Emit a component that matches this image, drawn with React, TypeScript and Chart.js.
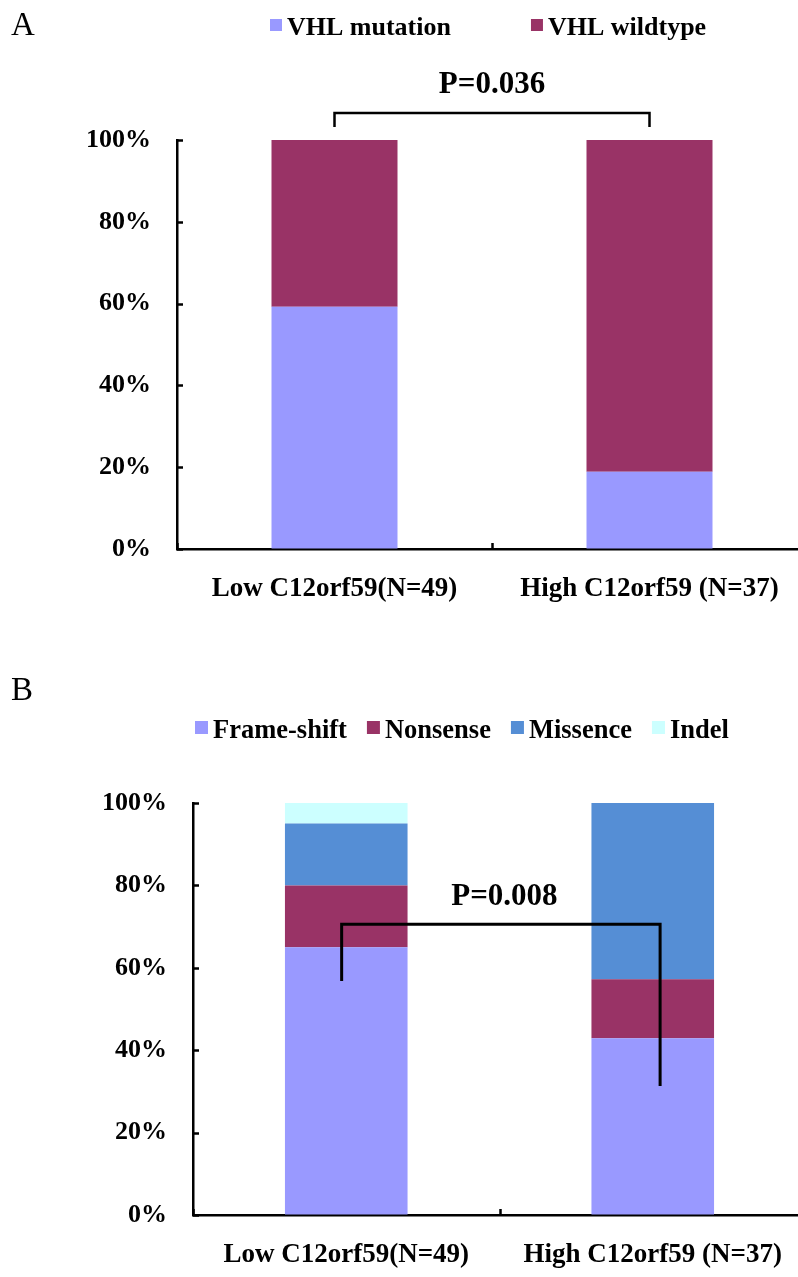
import React, { useEffect, useRef } from "react";
import { Chart, registerables } from "chart.js";

Chart.register(...registerables);

// ---------- data ----------
const groups = ["Low C12orf59(N=49)", "High C12orf59 (N=37)"];
const yTicks = [0, 20, 40, 60, 80, 100];

// Panel A
const vhlMutation = [59.2, 18.9];
const vhlWildtype = [40.8, 81.1];
const pTextA = "P=0.036";

// Panel B
const frameShift = [65, 42.9];
const nonsense = [15, 14.3];
const missence = [15, 42.8];
const indel = [5, 0];
const pTextB = "P=0.008";

const FONT = "'Liberation Serif', 'Times New Roman', serif";

const decorPlugin = {
  id: "decor",
  afterDraw(chart: any, _args: any, opts: any) {
    const { ctx, chartArea } = chart;
    const xs = chart.scales.x;
    const ys = chart.scales.y;
    ctx.save();
    ctx.strokeStyle = "#000";
    ctx.lineWidth = 2.5;
    ctx.lineCap = "butt";
    // inward tick marks on y axis
    ys.ticks.forEach((t: any) => {
      const py = Math.round(ys.getPixelForValue(t.value)) + 0.5;
      ctx.beginPath();
      ctx.moveTo(chartArea.left, py);
      ctx.lineTo(chartArea.left + 6, py);
      ctx.stroke();
    });
    // inward tick marks on x axis at category boundaries
    for (let i = 0; i <= xs.ticks.length; i++) {
      const px = Math.round(xs.getPixelForValue(i - 0.5)) + 0.5;
      ctx.beginPath();
      ctx.moveTo(px, chartArea.bottom);
      ctx.lineTo(px, chartArea.bottom - 6);
      ctx.stroke();
    }
    // significance bracket
    const b = opts.bracket;
    ctx.lineWidth = b.width;
    ctx.beginPath();
    ctx.moveTo(xs.getPixelForValue(b.x1), ys.getPixelForValue(b.y1));
    ctx.lineTo(xs.getPixelForValue(b.x1), ys.getPixelForValue(b.top));
    ctx.lineTo(xs.getPixelForValue(b.x2), ys.getPixelForValue(b.top));
    ctx.lineTo(xs.getPixelForValue(b.x2), ys.getPixelForValue(b.y2));
    ctx.stroke();
    // p value text
    ctx.fillStyle = "#000";
    ctx.font = `bold 31px ${FONT}`;
    ctx.textAlign = "center";
    ctx.textBaseline = "alphabetic";
    ctx.fillText(opts.pText, xs.getPixelForValue(opts.pX), ys.getPixelForValue(opts.pY));
    // legend
    const lg = opts.legend;
    ctx.font = `bold ${lg.size}px ${FONT}`;
    ctx.textAlign = "left";
    let x = lg.x;
    chart.data.datasets.forEach((ds: any) => {
      ctx.fillStyle = ds.backgroundColor;
      ctx.fillRect(x, lg.baseline - 4 - lg.box, lg.box, lg.box);
      ctx.fillStyle = "#000";
      const tx = x + lg.box + 5;
      ctx.fillText(ds.label, tx, lg.baseline);
      x = tx + ctx.measureText(ds.label).width + lg.gap;
    });
    ctx.restore();
  },
};

function makeConfig(p: any) {
  const grid = {
    display: true,
    drawOnChartArea: false,
    drawTicks: false,
    color: "rgba(0,0,0,0)",
  };
  const border = { display: true, color: "#000", width: 2.5 };
  return {
    type: "bar" as const,
    data: {
      labels: groups,
      datasets: p.datasets.map((d: any) => ({
        label: d.label,
        data: d.data,
        backgroundColor: d.color,
        borderWidth: 0,
        barPercentage: 0.4,
        categoryPercentage: 1,
      })),
    },
    options: {
      responsive: false,
      animation: false as const,
      devicePixelRatio: 1,
      layout: { padding: { top: p.top, left: 0, right: p.right, bottom: 0 } },
      plugins: {
        legend: { display: false },
        tooltip: { enabled: false },
        decor: p.decor,
      },
      scales: {
        x: {
          stacked: true,
          offset: true,
          grid,
          border,
          ticks: {
            color: "#000",
            font: { family: FONT, size: 27, weight: "bold" },
            padding: 24,
            maxRotation: 0,
            autoSkip: false,
          },
          afterFit: (s: any) => {
            s.height = p.xHeight;
          },
        },
        y: {
          stacked: true,
          min: 0,
          max: 100,
          grid,
          border,
          ticks: {
            color: "#000",
            font: { family: FONT, size: 26, weight: "bold" },
            padding: 26,
            callback: (v: any) => v + "%",
          },
          afterBuildTicks: (s: any) => {
            s.ticks = yTicks.map((v) => ({ value: v }));
          },
          afterFit: (s: any) => {
            s.width = p.yWidth;
          },
        },
      },
    },
    plugins: [decorPlugin],
  };
}

export default function App() {
  const refA = useRef<HTMLCanvasElement>(null);
  const refB = useRef<HTMLCanvasElement>(null);

  useEffect(() => {
    document.body.style.margin = "0";
    const chartA = new Chart(
      refA.current as HTMLCanvasElement,
      makeConfig({
        top: 140,
        right: 3,
        yWidth: 177,
        xHeight: 76,
        datasets: [
          { label: "VHL mutation", data: vhlMutation, color: "#9999FF" },
          { label: "VHL wildtype", data: vhlWildtype, color: "#993366" },
        ],
        decor: {
          bracket: { x1: 0, x2: 1, top: 106.6, y1: 103.2, y2: 103.2, width: 2.5 },
          pText: pTextA,
          pX: 0.5,
          pY: 111.5,
          legend: { x: 270, baseline: 35, box: 12, gap: 80, size: 26 },
        },
      }) as any
    );
    const chartB = new Chart(
      refB.current as HTMLCanvasElement,
      makeConfig({
        top: 178,
        right: 4,
        yWidth: 193,
        xHeight: 62,
        datasets: [
          { label: "Frame-shift", data: frameShift, color: "#9999FF" },
          { label: "Nonsense", data: nonsense, color: "#993366" },
          { label: "Missence", data: missence, color: "#558ED5" },
          { label: "Indel", data: indel, color: "#CCFFFF" },
        ],
        decor: {
          bracket: { x1: -0.015, x2: 1.024, top: 70.6, y1: 56.8, y2: 31.3, width: 3 },
          pText: pTextB,
          pX: 0.516,
          pY: 75.2,
          legend: { x: 195, baseline: 113, box: 13, gap: 20, size: 26.5 },
        },
      }) as any
    );
    return () => {
      chartA.destroy();
      chartB.destroy();
    };
  }, []);

  const letterStyle: React.CSSProperties = {
    position: "absolute",
    left: 11,
    font: `33px ${FONT}`,
    lineHeight: "33px",
    color: "#000",
  };

  return (
    <div
      style={{
        position: "absolute",
        left: 0,
        top: 0,
        width: 798,
        height: 1277,
        overflow: "hidden",
        background: "#fff",
      }}
    >
      <canvas ref={refA} width={810} height={625} style={{ position: "absolute", left: 0, top: 0 }} />
      <canvas ref={refB} width={810} height={652} style={{ position: "absolute", left: 0, top: 625 }} />
      <div style={{ ...letterStyle, top: 8 }}>A</div>
      <div style={{ ...letterStyle, top: 673 }}>B</div>
    </div>
  );
}
